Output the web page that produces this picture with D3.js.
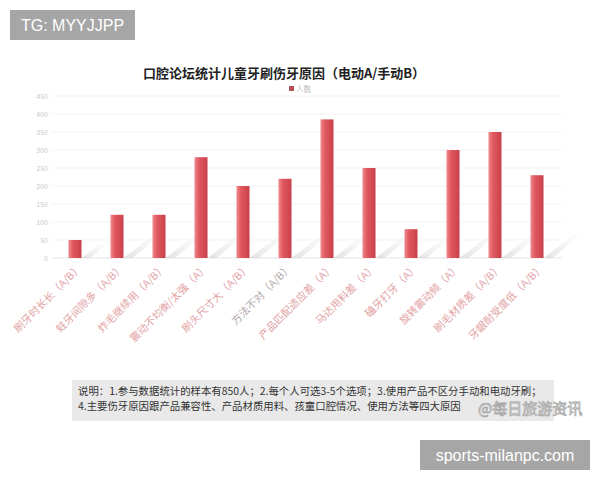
<!DOCTYPE html>
<html><head><meta charset="utf-8">
<script src="https://cdn.jsdelivr.net/npm/d3@7"></script>
<style>body{margin:0;background:#fff;}svg{display:block;font-family:"Noto Sans CJK SC","Noto Sans",sans-serif;}</style>
</head><body><svg id="c" width="600" height="480"></svg>
<script>
const categories = ["刷牙时长长（A/B）","蛀牙间隙多（A/B）","炸毛继续用（A/B）","震动不均衡/太强（A）","刷头尺寸大（A/B）","方法不对（A/B）","产品匹配适应差（A）","马达用料差（A）","磕牙打牙（A）","旋转震动频（A）","刷毛材质差（A/B）","牙龈耐受度低（A/B）"];
const values = [50,120,120,280,200,220,385,250,80,300,350,230];
const yTicks = [0,50,100,150,200,250,300,350,400,450];
const title = "口腔论坛统计儿童牙刷伤牙原因（电动A/手动B）";
const seriesName = "人数";
const noteLines = ["说明：1.参与数据统计的样本有850人；2.每个人可选3-5个选项；3.使用产品不区分手动和电动牙刷；","4.主要伤牙原因跟产品兼容性、产品材质用料、孩童口腔情况、使用方法等四大原因"];

const svg = d3.select("#c");
const defs = svg.append("defs");
const g1 = defs.append("linearGradient").attr("id","bar").attr("x1","0").attr("x2","1");
g1.append("stop").attr("offset","0").attr("stop-color","#ee8a8e");
g1.append("stop").attr("offset","0.35").attr("stop-color","#e0585f");
g1.append("stop").attr("offset","1").attr("stop-color","#c9404a");
const g2 = defs.append("linearGradient").attr("id","sh").attr("x1","0").attr("x2","1").attr("y1","1").attr("y2","0");
g2.append("stop").attr("offset","0").attr("stop-color","#d8d8d8").attr("stop-opacity","0.9");
g2.append("stop").attr("offset","1").attr("stop-color","#eee").attr("stop-opacity","0");

const x = d3.scaleBand().domain(categories).range([54,558]).paddingInner(0.69).paddingOuter(0.345);
const y = d3.scaleLinear().domain([0,450]).range([258,96]);

// watermark boxes
svg.append("rect").attr("x",10).attr("y",10).attr("width",125).attr("height",30).attr("fill","#a6a6a6");
svg.append("text").attr("x",21).attr("y",31).attr("fill","#fff").attr("font-size",16).attr("font-family","Liberation Sans, Arial").text("TG: MYYJJPP");

// title + legend
svg.append("text").attr("x",284).attr("y",78).attr("text-anchor","middle").attr("font-size",13).attr("font-weight","bold").attr("fill","#222").text(title);
svg.append("rect").attr("x",289).attr("y",86).attr("width",5).attr("height",5).attr("fill","#b3505a");
svg.append("text").attr("x",296).attr("y",92).attr("font-size",7.5).attr("fill","#bbb").text(seriesName);

// grid
svg.append("g").selectAll("line").data(yTicks).join("line")
  .attr("x1",52).attr("x2",562).attr("y1",d=>y(d)).attr("y2",d=>y(d))
  .attr("stroke",d=>d===0?"#e4e4e4":"#f3f3f3").attr("stroke-width",1);
// y axis labels
svg.append("g").selectAll("text").data(yTicks).join("text")
  .attr("x",48).attr("y",d=>y(d)+3).attr("text-anchor","end").attr("font-size",7).attr("fill","#c8c8c8").text(d=>d);

// shadows
const bw = x.bandwidth();
svg.append("g").selectAll("path").data(values).join("path")
  .attr("d",(d,i)=>{const xr=x(categories[i])+bw; const b=y(0); const h=Math.min(y(0)-y(d), 40)*0.5+6;
    return `M${xr},${b} L${xr+h*1.3},${b-h} L${xr+h*1.3+7},${b-h} L${xr+9},${b} Z`;})
  .attr("fill","url(#sh)").attr("opacity",0.85);

// bars
svg.append("g").selectAll("rect").data(values).join("rect")
  .attr("x",(d,i)=>x(categories[i])).attr("y",d=>y(d)).attr("width",bw).attr("height",d=>y(0)-y(d))
  .attr("fill","url(#bar)");

// x labels
svg.append("g").selectAll("text").data(categories).join("text")
  .attr("transform",d=>`translate(${x(d)+bw/2+5},${y(0)+8}) rotate(-45)`)
  .attr("text-anchor","end").attr("dy","0.35em").attr("font-size",10.5)
  .attr("fill",(d,i)=>i===5?"#b0a8a8":"#e2a2a4").text(d=>d);

// note box
svg.append("rect").attr("x",72).attr("y",380).attr("width",482).attr("height",41).attr("fill","#e9e9e9");
svg.append("g").selectAll("text").data(noteLines).join("text")
  .attr("x",78).attr("y",(d,i)=>395+i*15).attr("font-size",10.4).attr("fill","#333").text(d=>d);
svg.append("text").attr("x",478).attr("y",414).attr("font-size",15).attr("fill","#fff").attr("stroke","#aaa").attr("stroke-width",0.8).text("@每日旅游资讯");

svg.append("rect").attr("x",420).attr("y",440).attr("width",170).attr("height",30).attr("fill","#a6a6a6");
svg.append("text").attr("x",505).attr("y",461).attr("text-anchor","middle").attr("fill","#fff").attr("font-size",16).attr("font-family","Liberation Sans, Arial").text("sports-milanpc.com");
</script></body></html>
